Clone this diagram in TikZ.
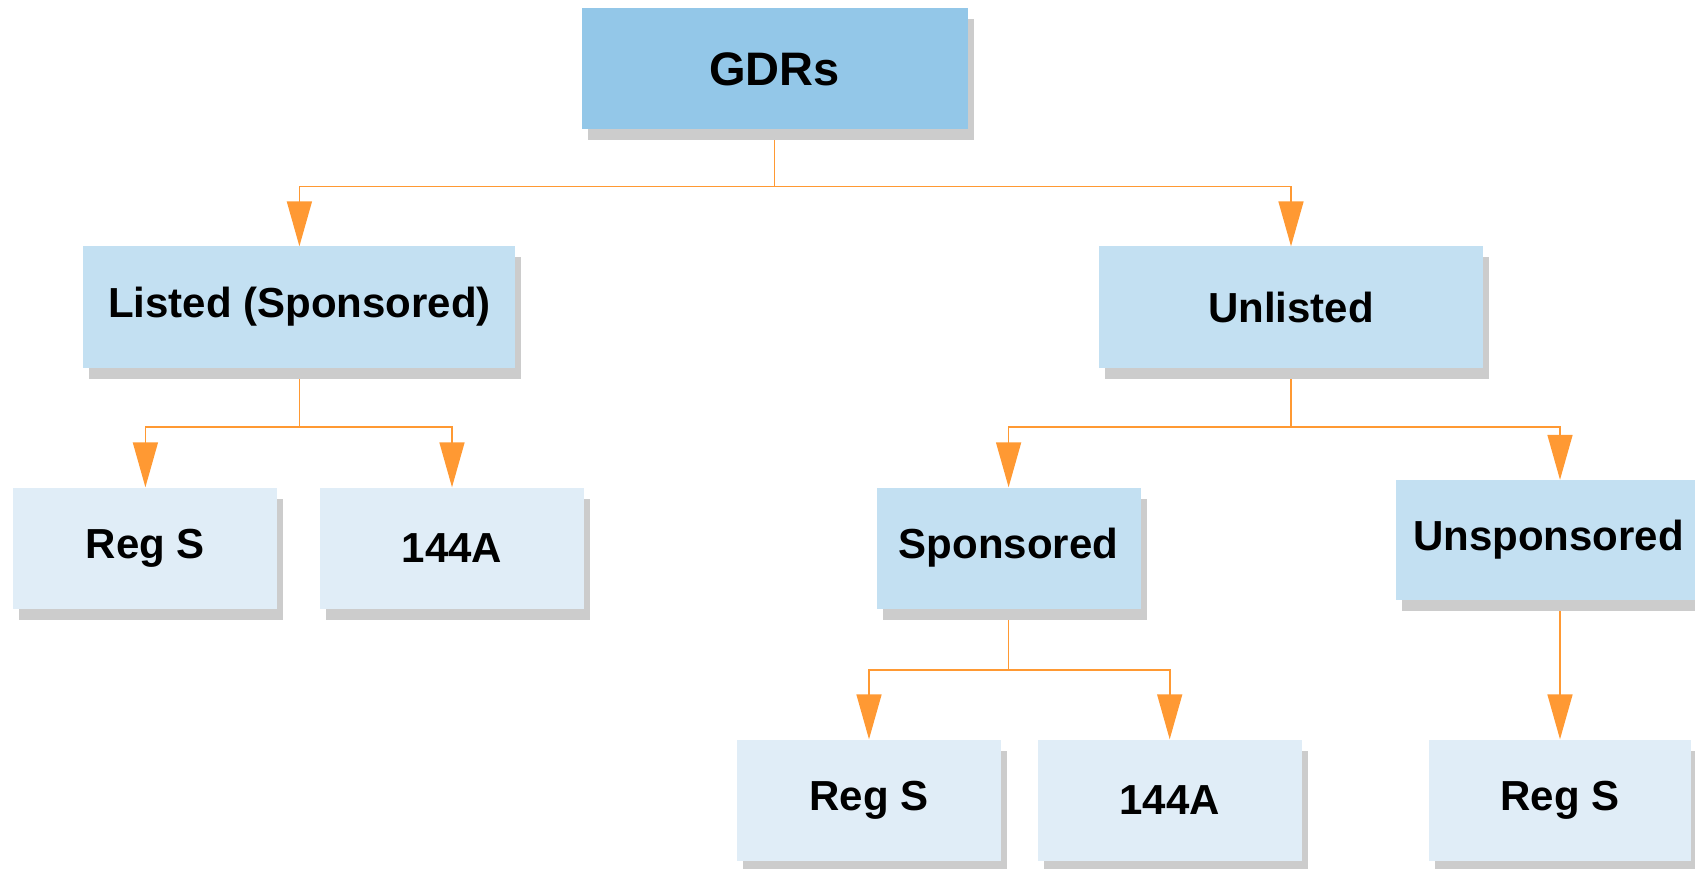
\documentclass[tikz,border=0pt]{standalone}
\usepackage{fontspec}
\setmainfont{Liberation Sans}
\usetikzlibrary{arrows.meta,shadows,backgrounds}
\definecolor{gdrblue}{HTML}{93C7E8}
\definecolor{midblue}{HTML}{C3E0F2}
\definecolor{leafblue}{HTML}{E0EDF7}
\definecolor{shadowgray}{HTML}{CCCCCC}
\definecolor{linkorange}{HTML}{FF9933}

\begin{document}
\begin{tikzpicture}[x=1pt,y=-1pt]
	\tikzstyle{box}=[rectangle,inner sep=0pt,minimum height=121pt,font=\fontsize{42}{50}\selectfont\bfseries,drop shadow={shadow xshift=6pt,shadow yshift=-11pt,opacity=1,fill=shadowgray}];
	\tikzstyle{topbox}=[box,fill=gdrblue,minimum width=386pt,font=\fontsize{47}{56}\selectfont\bfseries];
	\tikzstyle{midbox}=[box,fill=midblue];
	\tikzstyle{leafbox}=[box,fill=leafblue,minimum width=264pt];
	\tikzstyle{link}=[draw=linkorange,line width=1.6pt,-{Triangle[length=45pt,width=25pt,fill=linkorange]}];

	\useasboundingbox (0,0) rectangle (1695,869);

	% top
	\node[topbox] (gdrs) at (774.5,69) {GDRs};
	% second row
	\node[midbox,minimum width=432pt] (listed)   at (299.4,307) {Listed (Sponsored)};
	\node[midbox,minimum width=384pt] (unlisted) at (1291,307)  {Unlisted};
	% third row
	\node[leafbox] (regsl)  at (145.4,548) {Reg S};
	\node[leafbox] (rulel)  at (452,548)   {144A};
	\node[midbox,minimum width=264pt] (spons) at (1008.6,548) {Sponsored};
	\node[midbox,minimum width=305pt,minimum height=120pt] (unsp) at (1548.5,540) {Unsponsored};
	% bottom row
	\node[leafbox] (regss)  at (869,800)    {Reg S};
	\node[leafbox] (rules)  at (1169.7,800) {144A};
	\node[leafbox,minimum width=262pt] (regsu) at (1560,800) {Reg S};

	\begin{scope}[on background layer]
	\draw[link] (gdrs.south) -- ++(0,57) -| (listed.north);
	\draw[link] (gdrs.south) -- ++(0,57) -| (unlisted.north);
	\draw[link] (listed.south) -- ++(0,59) -| (regsl.north);
	\draw[link] (listed.south) -- ++(0,59) -| (rulel.north);
	\draw[link] (unlisted.south) -- ++(0,59) -| (spons.north);
	\draw[link] (unlisted.south) -- ++(0,59) -| (unsp.north -| regsu.north);
	\draw[link] (spons.south) -- ++(0,61) -| (regss.north);
	\draw[link] (spons.south) -- ++(0,61) -| (rules.north);
	\draw[link] (unsp.south -| regsu.north) -- (regsu.north);
	\end{scope}
\end{tikzpicture}
\end{document}
